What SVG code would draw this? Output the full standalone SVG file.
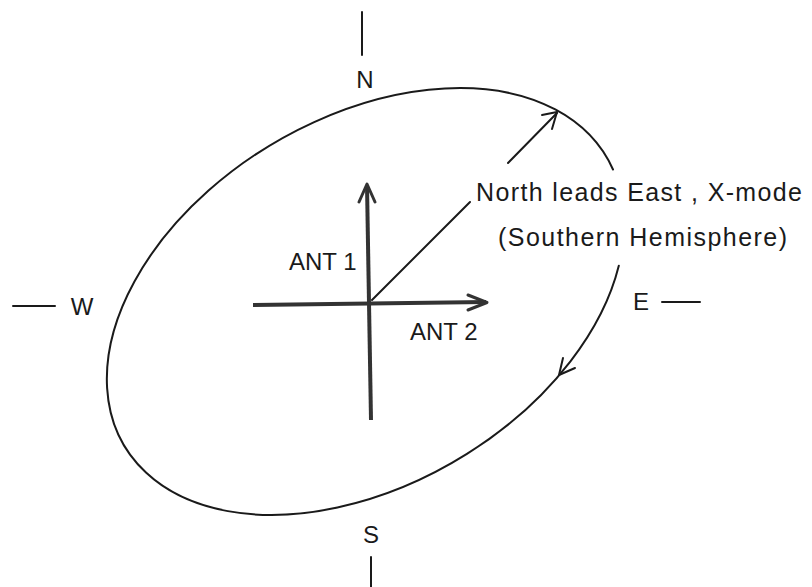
<svg xmlns="http://www.w3.org/2000/svg" width="812" height="587" viewBox="0 0 812 587">
<style>
text{font-family:"Liberation Sans",Arial,sans-serif;fill:#1a1a1a}
.lbl{font-size:24px}
.note{font-size:25px}
.thin{stroke:#1a1a1a;stroke-width:2;fill:none;stroke-linecap:round;stroke-linejoin:round}
.thick{stroke:#333;stroke-width:4;fill:none;stroke-linecap:butt}
.head{stroke:#333;stroke-width:3;fill:none;stroke-linecap:round;stroke-linejoin:round}
</style>
<rect width="812" height="587" fill="#fff"/>
<g id="compass">
<line class="thin" x1="362" y1="12" x2="362" y2="55"/>
<text class="lbl" x="365" y="88" text-anchor="middle">N</text>
<text class="lbl" x="371" y="543" text-anchor="middle">S</text>
<line class="thin" x1="371" y1="557" x2="371" y2="587"/>
<line class="thin" x1="13" y1="306" x2="55" y2="306"/>
<text class="lbl" x="82" y="315" text-anchor="middle">W</text>
<text class="lbl" x="641" y="310" text-anchor="middle">E</text>
<line class="thin" x1="662" y1="302" x2="700" y2="302"/>
</g>
<g id="connectors">
<path id="ellipse" class="thin" d="M 618.8 265.7 A 281 183 -31 1 1 613 169.5"/>
<polyline class="thin" points="563,358 559,375 575,368"/>
<line class="thin" x1="372" y1="300" x2="470" y2="202"/>
<line class="thin" x1="508" y1="163" x2="557" y2="113"/>
<polyline class="thin" points="542,115 557,112 552,129"/>
</g>
<g id="ant1">
<line class="thick" x1="367" y1="185" x2="371" y2="420"/>
<polyline class="head" points="359,202 367,184 375,202"/>
<text class="lbl" x="289" y="270">ANT 1</text>
</g>
<g id="ant2">
<line class="thick" x1="253" y1="305" x2="486" y2="302"/>
<polyline class="head" points="468,295 487,302.5 468,310"/>
<text class="lbl" x="410" y="340">ANT 2</text>
</g>
<g id="label">
<text class="note" x="476" y="201" textLength="326" lengthAdjust="spacing">North leads East , X-mode</text>
<text class="note" x="498" y="246" textLength="289" lengthAdjust="spacing">(Southern Hemisphere)</text>
</g>
</svg>
